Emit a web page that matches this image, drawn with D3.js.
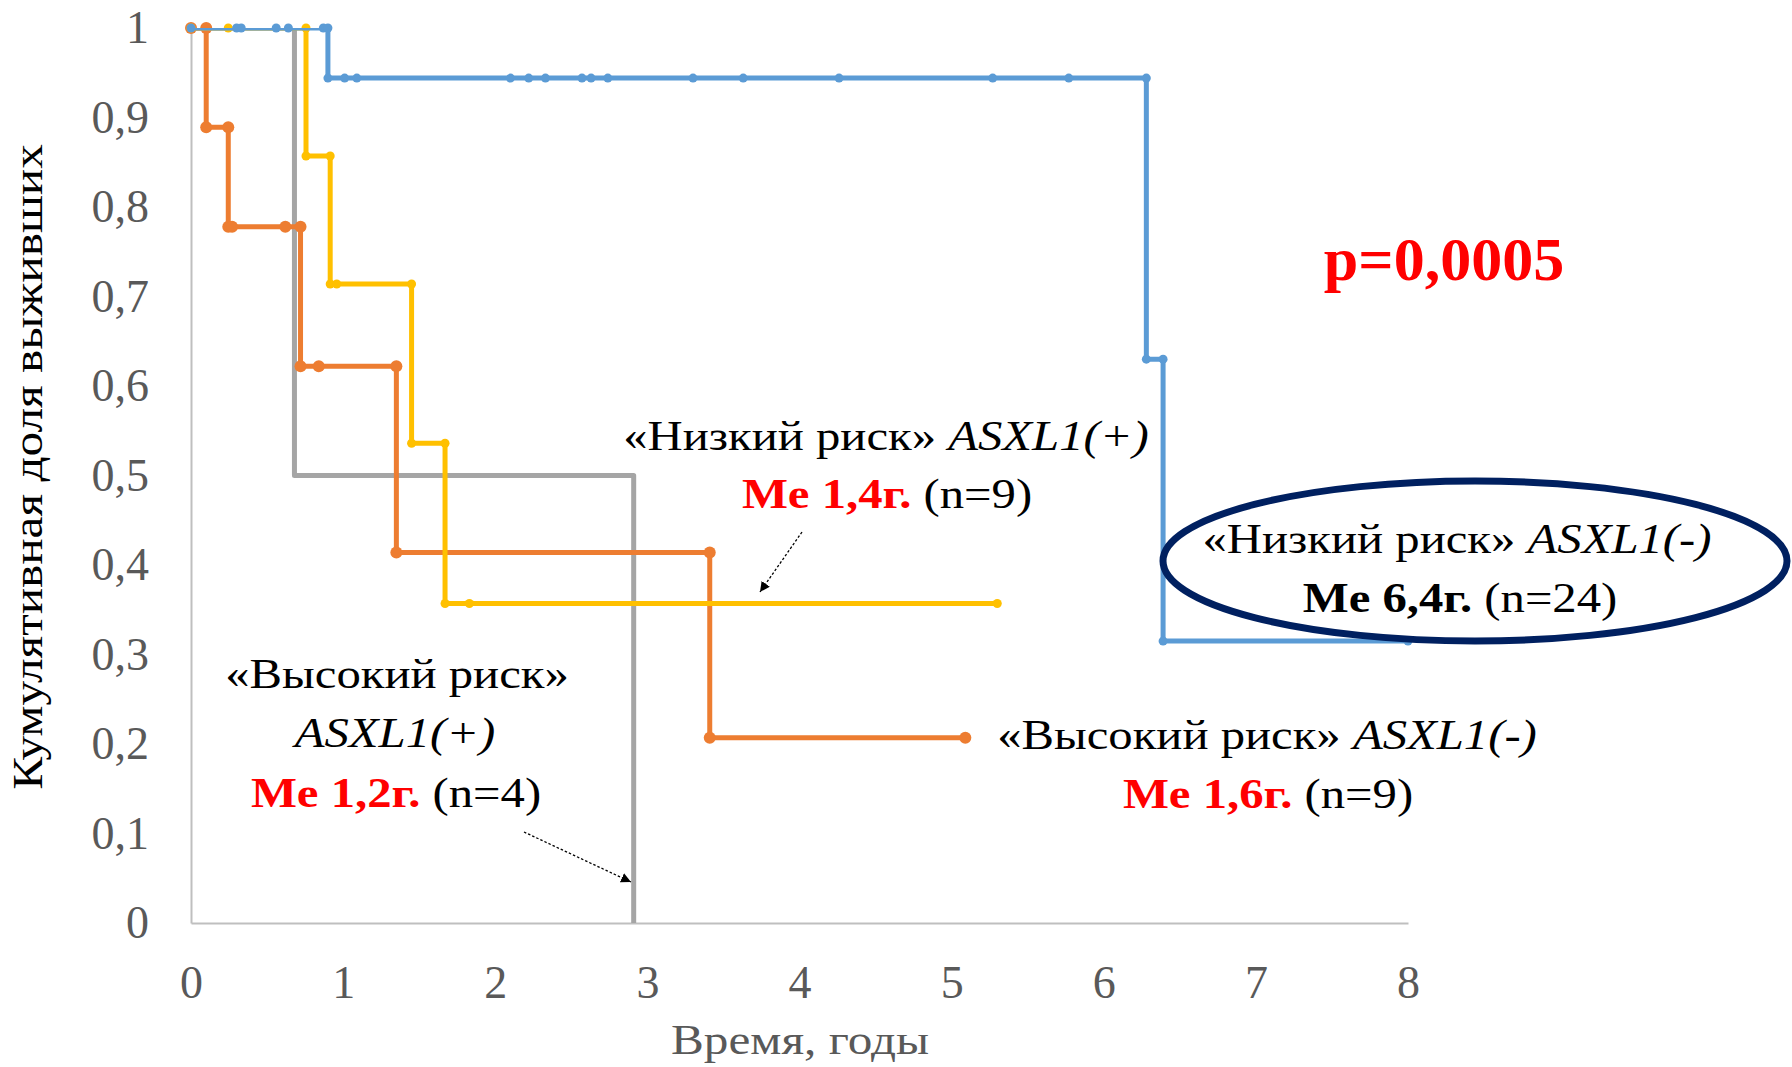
<!DOCTYPE html>
<html>
<head>
<meta charset="utf-8">
<script src="https://cdn.jsdelivr.net/npm/d3@7/dist/d3.min.js"></script>
<style>
  body { margin: 0; background: #fff; }
  text { font-family: 'Liberation Serif', 'Times New Roman', serif; }
</style>
</head>
<body>
<div id="chart"></div>
<script>
// step-curve vertices as plotted (event steps + censored marks)
const lowNegTime = [0, 0.30, 0.33, 0.56, 0.64, 0.87, 0.90, 0.90, 1.01, 1.09, 2.10, 2.22, 2.33, 2.57, 2.63, 2.74, 3.30, 3.63, 4.26, 5.27, 5.77, 6.28, 6.28, 6.39, 6.39, 8.0]
const lowNegSurv = [1, 1, 1, 1, 1, 1, 1, 0.944, 0.944, 0.944, 0.944, 0.944, 0.944, 0.944, 0.944, 0.944, 0.944, 0.944, 0.944, 0.944, 0.944, 0.944, 0.63, 0.63, 0.315, 0.315]

const highNegTime = [0, 0.10, 0.10, 0.245, 0.245, 0.27, 0.62, 0.72, 0.72, 0.84, 1.35, 1.35, 3.41, 3.41, 5.09]
const highNegSurv = [1, 1, 0.889, 0.889, 0.778, 0.778, 0.778, 0.778, 0.622, 0.622, 0.622, 0.414, 0.414, 0.207, 0.207]

const lowPosTime = [0, 0.245, 0.756, 0.756, 0.915, 0.915, 0.958, 1.45, 1.45, 1.67, 1.67, 1.83, 5.30]
const lowPosSurv = [1, 1, 1, 0.857, 0.857, 0.714, 0.714, 0.714, 0.536, 0.536, 0.357, 0.357, 0.357]

const highPosTime = [0, 0.68, 0.68, 2.91, 2.91]
const highPosSurv = [1, 1, 0.5, 0.5, 0]

const xTicks = [0, 1, 2, 3, 4, 5, 6, 7, 8]
const yTicks = [0, 0.1, 0.2, 0.3, 0.4, 0.5, 0.6, 0.7, 0.8, 0.9, 1]

const width = 1792;
const height = 1067;
const margin = { top: 28, right: 384, bottom: 144, left: 191 }

const svg = d3.select('#chart')
    .append('svg')
    .attr('width', width)
    .attr('height', height)
    .attr('viewBox', [0, 0, width, height]);

const x = d3.scaleLinear()
    .domain([0, 8])
    .range([margin.left, width - margin.right])

const y = d3.scaleLinear()
    .domain([0, 1])
    .range([height - margin.bottom, margin.top])

const comma = d => String(d).replace('.', ',')

// axes
svg.append('g')
    .attr('transform', `translate(${margin.left},0)`)
    .call(d3.axisLeft(y).tickValues(yTicks).tickFormat(comma).tickSize(0).tickPadding(42))
    .call(g => g.select('.domain').attr('stroke', '#bfbfbf').attr('stroke-width', 2))
    .call(g => g.selectAll('text').attr('fill', '#595959').attr('font-size', 46)
        .attr('font-family', "'Liberation Serif', serif"))

svg.append('g')
    .attr('transform', `translate(0,${height - margin.bottom})`)
    .call(d3.axisBottom(x).tickValues(xTicks).tickSize(0).tickPadding(42))
    .call(g => g.select('.domain').attr('stroke', '#bfbfbf').attr('stroke-width', 2))
    .call(g => g.selectAll('text').attr('fill', '#595959').attr('font-size', 46)
        .attr('font-family', "'Liberation Serif', serif"))

// axis titles
svg.append('text')
    .attr('transform', `translate(800,1054) scale(1.145,1)`)
    .attr('text-anchor', 'middle')
    .attr('font-size', 43)
    .attr('fill', '#595959')
    .text('Время, годы')

svg.append('text')
    .attr('transform', `translate(42,467) rotate(-90) scale(1.145,1)`)
    .attr('text-anchor', 'middle')
    .attr('font-size', 43)
    .attr('fill', '#000')
    .text('Кумулятивная доля выживших')

// curves
svg.append('clipPath').attr('id', 'plot')
    .append('rect')
    .attr('x', margin.left).attr('y', margin.top)
    .attr('width', x(8) - x(0)).attr('height', y(0) - y(1))

const series = [
    { t: highPosTime, s: highPosSurv, color: '#a5a5a5', r: 0 },
    { t: highNegTime, s: highNegSurv, color: '#ed7d31', r: 6 },
    { t: lowPosTime, s: lowPosSurv, color: '#ffc000', r: 4.5 },
    { t: lowNegTime, s: lowNegSurv, color: '#5b9bd5', r: 4.5 },
]

const line = d3.line().x(d => x(d[0])).y(d => y(d[1]))

series.forEach(sr => {
    const pts = sr.t.map((t, i) => [t, sr.s[i]])
    svg.append('path')
        .attr('clip-path', 'url(#plot)')
        .attr('d', line(pts))
        .attr('fill', 'none')
        .attr('stroke', sr.color)
        .attr('stroke-width', 5)
        .attr('stroke-linejoin', 'round')
    if (sr.r > 0) {
        svg.append('g')
            .attr('fill', sr.color)
            .selectAll('circle')
            .data(pts)
            .join('circle')
                .attr('cx', d => x(d[0]))
                .attr('cy', d => y(d[1]))
                .attr('r', sr.r)
    }
})

// annotations
function label(cx, by, parts, size, sx) {
    const t = svg.append('text')
        .attr('transform', `translate(${cx},${by}) scale(${sx},1)`)
        .attr('text-anchor', 'middle')
        .attr('font-size', size)
    parts.forEach(p => {
        t.append('tspan')
            .attr('fill', p.c || '#000')
            .attr('font-weight', p.b ? 'bold' : 'normal')
            .attr('font-style', p.i ? 'italic' : 'normal')
            .text(p.s)
    })
}

label(1444, 280, [{ s: 'p=0,0005', c: '#ff0000', b: true }], 62, 1)

label(886, 450, [{ s: '«Низкий риск» ' }, { s: 'ASXL1(+)', i: true }], 42, 1.16)
label(887, 508, [{ s: 'Me 1,4г.', c: '#ff0000', b: true }, { s: ' (n=9)' }], 42, 1.16)

label(1457, 553, [{ s: '«Низкий риск» ' }, { s: 'ASXL1(-)', i: true }], 42, 1.16)
label(1460, 612, [{ s: 'Me 6,4г.', b: true }, { s: ' (n=24)' }], 42, 1.16)

label(397, 688, [{ s: '«Высокий риск»' }], 42, 1.16)
label(395, 747, [{ s: 'ASXL1(+)', i: true }], 42, 1.16)
label(396, 807, [{ s: 'Me 1,2г.', c: '#ff0000', b: true }, { s: ' (n=4)' }], 42, 1.16)

label(1267, 749, [{ s: '«Высокий риск» ' }, { s: 'ASXL1(-)', i: true }], 42, 1.16)
label(1268, 808, [{ s: 'Me 1,6г.', c: '#ff0000', b: true }, { s: ' (n=9)' }], 42, 1.16)

svg.append('ellipse')
    .attr('cx', 1475).attr('cy', 561)
    .attr('rx', 312).attr('ry', 80)
    .attr('fill', 'none')
    .attr('stroke', '#002060')
    .attr('stroke-width', 7)

// dotted pointer arrows
svg.append('defs').append('marker')
    .attr('id', 'head')
    .attr('viewBox', '0 0 10 10')
    .attr('refX', 10).attr('refY', 5)
    .attr('markerWidth', 10).attr('markerHeight', 10)
    .attr('markerUnits', 'userSpaceOnUse')
    .attr('orient', 'auto')
    .append('path')
    .attr('d', 'M0,0L10,5L0,10Z')
    .attr('fill', '#000')

const arrows = [[802, 532, 760, 592], [524, 832, 631, 882]]
svg.append('g')
    .selectAll('line')
    .data(arrows)
    .join('line')
        .attr('x1', d => d[0]).attr('y1', d => d[1])
        .attr('x2', d => d[2]).attr('y2', d => d[3])
        .attr('stroke', '#000')
        .attr('stroke-width', 1.3)
        .attr('stroke-dasharray', '2.5,2')
        .attr('marker-end', 'url(#head)')
</script>
</body>
</html>
